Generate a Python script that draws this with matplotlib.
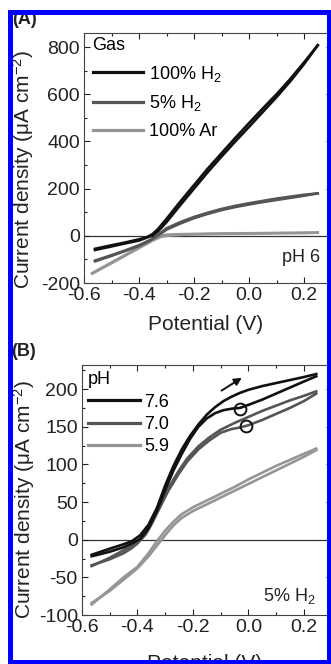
import numpy as np
import matplotlib
matplotlib.use("Agg")
import matplotlib.pyplot as plt
from matplotlib.patches import Rectangle
from matplotlib.ticker import MultipleLocator, FormatStrFormatter

plt.rcParams['font.family'] = ['Liberation Sans', 'DejaVu Sans']
plt.rcParams['mathtext.fontset'] = 'custom'
plt.rcParams['mathtext.rm'] = 'Liberation Sans'
plt.rcParams['mathtext.it'] = 'Liberation Sans:italic'
plt.rcParams['axes.unicode_minus'] = False

# ---- panel A : gas composition, pH 6 (forward / reverse sweeps) ----
a_h2_fwd_v = [-0.56, -0.50, -0.45, -0.40, -0.37, -0.35, -0.33, -0.30, -0.25, -0.20,
              -0.15, -0.10, -0.05, 0.00, 0.05, 0.10, 0.15, 0.20, 0.25]
a_h2_fwd_j = [-55, -40, -28, -15, -5, 8, 30, 72, 145, 215,
              285, 350, 415, 478, 540, 600, 665, 735, 808]
a_h2_rev_v = [0.25, 0.20, 0.15, 0.10, 0.05, 0.00, -0.05, -0.10, -0.15, -0.20,
              -0.25, -0.30, -0.33, -0.35, -0.40, -0.45, -0.50, -0.56]
a_h2_rev_j = [808, 728, 655, 588, 525, 462, 400, 336, 270, 200,
              130, 58, 20, 2, -20, -32, -45, -60]

a_h5_fwd_v = [-0.56, -0.50, -0.45, -0.40, -0.36, -0.33, -0.30, -0.25, -0.20,
              -0.15, -0.10, -0.05, 0.00, 0.05, 0.10, 0.15, 0.20, 0.25]
a_h5_fwd_j = [-105, -82, -62, -40, -18, 5, 32, 58, 80,
              98, 114, 127, 138, 148, 158, 166, 174, 180]
a_h5_rev_v = [0.25, 0.20, 0.15, 0.10, 0.05, 0.00, -0.05, -0.10, -0.15,
              -0.20, -0.25, -0.30, -0.33, -0.36, -0.40, -0.45, -0.50, -0.56]
a_h5_rev_j = [180, 170, 161, 152, 143, 133, 122, 109, 93,
              75, 52, 26, 2, -20, -43, -64, -85, -108]

a_ar_fwd_v = [-0.57, -0.50, -0.45, -0.40, -0.35, -0.32, -0.30, -0.25, -0.20, -0.10,
              0.00, 0.10, 0.20, 0.25]
a_ar_fwd_j = [-158, -113, -81, -49, -17, 0, 5, 7, 8, 10,
              11, 12, 13, 14]
a_ar_rev_v = [0.25, 0.20, 0.10, 0.00, -0.10, -0.20, -0.25, -0.30, -0.32, -0.35,
              -0.40, -0.45, -0.50, -0.57]
a_ar_rev_j = [13, 12, 11, 9, 8, 6, 4, 0, -4, -20,
              -52, -84, -116, -160]

a_labels = ['100% H$_2$', '5% H$_2$', '100% Ar']

# ---- panel B : pH series, 5% H2 ----
b_76_fwd_v = [-0.565, -0.50, -0.45, -0.42, -0.39, -0.36, -0.33, -0.30, -0.27, -0.24,
              -0.21, -0.18, -0.15, -0.12, -0.09, -0.06, -0.03, 0.00, 0.05, 0.10,
              0.15, 0.20, 0.245]
b_76_fwd_j = [-20, -12, -6, -2, 6, 20, 42, 72, 98, 120,
              138, 153, 166, 176, 184, 190, 195, 199, 204, 208,
              212, 216, 220]
b_76_rev_v = [0.245, 0.20, 0.15, 0.10, 0.05, 0.00, -0.03, -0.06, -0.09, -0.12,
              -0.15, -0.18, -0.21, -0.24, -0.27, -0.30, -0.33, -0.36, -0.39, -0.42,
              -0.45, -0.50, -0.565]
b_76_rev_j = [217, 210, 202, 194, 186, 179, 175, 174, 172, 168,
              161, 150, 134, 114, 92, 66, 38, 15, 1, -5,
              -10, -16, -22]

b_70_fwd_v = [-0.565, -0.50, -0.45, -0.42, -0.40, -0.37, -0.35, -0.32, -0.29, -0.25,
              -0.22, -0.18, -0.14, -0.10, -0.05, 0.00, 0.05, 0.10, 0.15, 0.20, 0.245]
b_70_fwd_j = [-35, -24, -14, -8, -3, 10, 24, 46, 68, 92,
              108, 124, 136, 146, 155, 163, 171, 178, 185, 191, 197]
b_70_rev_v = [0.245, 0.20, 0.15, 0.10, 0.05, 0.00, -0.03, -0.06, -0.10, -0.14,
              -0.18, -0.22, -0.25, -0.29, -0.32, -0.35, -0.37, -0.40, -0.42, -0.45,
              -0.50, -0.565]
b_70_rev_j = [194, 184, 175, 167, 159, 152, 149, 147, 142, 132,
              120, 104, 88, 64, 42, 20, 7, -5, -11, -18,
              -26, -34]

b_59_fwd_v = [-0.565, -0.50, -0.45, -0.40, -0.36, -0.33, -0.30, -0.27, -0.24, -0.20,
              -0.15, -0.10, -0.05, 0.00, 0.05, 0.10, 0.15, 0.20, 0.245]
b_59_fwd_j = [-86, -66, -50, -36, -18, -2, 12, 24, 34, 43,
              52, 61, 70, 80, 89, 98, 106, 114, 121]
b_59_rev_v = [0.245, 0.20, 0.15, 0.10, 0.05, 0.00, -0.05, -0.10, -0.15, -0.20,
              -0.24, -0.27, -0.30, -0.33, -0.36, -0.40, -0.45, -0.50, -0.565]
b_59_rev_j = [119, 110, 101, 92, 83, 74, 65, 56, 47, 38,
              29, 19, 6, -8, -22, -38, -53, -68, -84]

b_labels = ['7.6', '7.0', '5.9']
circle_v = [-0.03, -0.01]
circle_j = [174, 151]

colors = ['#111111', '#555555', '#959595']
lw = 1.9

fig = plt.figure(figsize=(3.31, 6.64), dpi=100)
axA = fig.add_axes([84/331, 1-283/664, 247.5/331, 250/664])
axB = fig.add_axes([82/331, 1-615/664, 249.5/331, 250/664])

setsA = [(a_h2_fwd_v, a_h2_fwd_j, a_h2_rev_v, a_h2_rev_j),
         (a_h5_fwd_v, a_h5_fwd_j, a_h5_rev_v, a_h5_rev_j),
         (a_ar_fwd_v, a_ar_fwd_j, a_ar_rev_v, a_ar_rev_j)]
setsB = [(b_76_fwd_v, b_76_fwd_j, b_76_rev_v, b_76_rev_j),
         (b_70_fwd_v, b_70_fwd_j, b_70_rev_v, b_70_rev_j),
         (b_59_fwd_v, b_59_fwd_j, b_59_rev_v, b_59_rev_j)]

handles = {}
for ax, sets, labels in [(axA, setsA, a_labels), (axB, setsB, b_labels)]:
    ax.axhline(0, color='#333333', lw=0.9, zorder=1)
    hl = []
    for (fv, fj, rv, rj), c, lab in zip(sets[::-1], colors[::-1], labels[::-1]):
        ax.plot(rv, rj, color=c, lw=lw, zorder=2)
        line, = ax.plot(fv, fj, color=c, lw=lw, zorder=2, label=lab)
        hl.append(line)
    handles[ax] = hl[::-1]
    ax.set_xlim(-0.6, 0.3)
    ax.xaxis.set_major_locator(MultipleLocator(0.2))
    ax.xaxis.set_minor_locator(MultipleLocator(0.1))
    ax.xaxis.set_major_formatter(FormatStrFormatter('%.1f'))
    ax.tick_params(which='both', direction='in', top=True, right=True,
                   labelsize=14, pad=3, colors='#222222')
    ax.tick_params(which='major', length=4, width=0.8)
    ax.tick_params(which='minor', length=2, width=0.8)
    for s in ax.spines.values():
        s.set_color('#444444')
        s.set_linewidth(0.8)
    ax.set_xlabel('Potential (V)', fontsize=15, color='#222222')
    ax.set_ylabel('Current density (\u03bcA cm$^{-2}$)', fontsize=15, color='#222222')

axA.set_ylim(-200, 860)
axA.yaxis.set_major_locator(MultipleLocator(200))
axA.yaxis.set_minor_locator(MultipleLocator(100))
axB.set_ylim(-100, 232)
axB.yaxis.set_major_locator(MultipleLocator(50))
axB.yaxis.set_minor_locator(MultipleLocator(25))

axA.xaxis.set_label_coords(0.49, -0.128)
axB.xaxis.set_label_coords(0.49, -0.156)
axA.yaxis.set_label_coords(-0.195, 0.452)
axB.yaxis.set_label_coords(-0.18, 0.46)

legA = axA.legend(handles[axA], a_labels, title='Gas', loc='upper left',
                  bbox_to_anchor=(0.02, 1.0), frameon=False, fontsize=13,
                  title_fontsize=13, alignment='left', handlelength=2.8,
                  handletextpad=0.3, labelspacing=0.55, borderpad=0.2, borderaxespad=0)
legB = axB.legend(handles[axB], b_labels, title='pH', loc='upper left',
                  bbox_to_anchor=(0.01, 0.99), frameon=False, fontsize=13,
                  title_fontsize=13, alignment='left', handlelength=2.9,
                  handletextpad=0.2, labelspacing=0.3, borderpad=0.2, borderaxespad=0)
for leg in (legA, legB):
    for line in leg.get_lines():
        line.set_linewidth(2.3)

axA.text(0.955, 0.10, 'pH 6', transform=axA.transAxes, ha='right', va='center',
         fontsize=13, color='#222222')
axB.text(0.935, 0.075, '5% H$_2$', transform=axB.transAxes, ha='right', va='center',
         fontsize=13, color='#222222')

axB.plot(circle_v, circle_j, 'o', mfc='none', mec='#111111', ms=8.5, mew=1.4, zorder=3)
axB.annotate('', xy=(-0.015, 217), xytext=(-0.105, 196),
             arrowprops=dict(arrowstyle='-|>', lw=1.4, color='#111111', mutation_scale=11))

fig.text(12/331, 1-20/664, '(A)', fontsize=13, fontweight='bold', va='center', color='#222222')
fig.text(11/331, 1-351/664, '(B)', fontsize=13, fontweight='bold', va='center', color='#222222')

fig.add_artist(Rectangle((9.5/331, 2.5/664), 319.5/331, 650/664, transform=fig.transFigure,
                         fill=False, ec='#0000ff', lw=3.6, zorder=20))

fig.savefig('out.png', dpi=100)
